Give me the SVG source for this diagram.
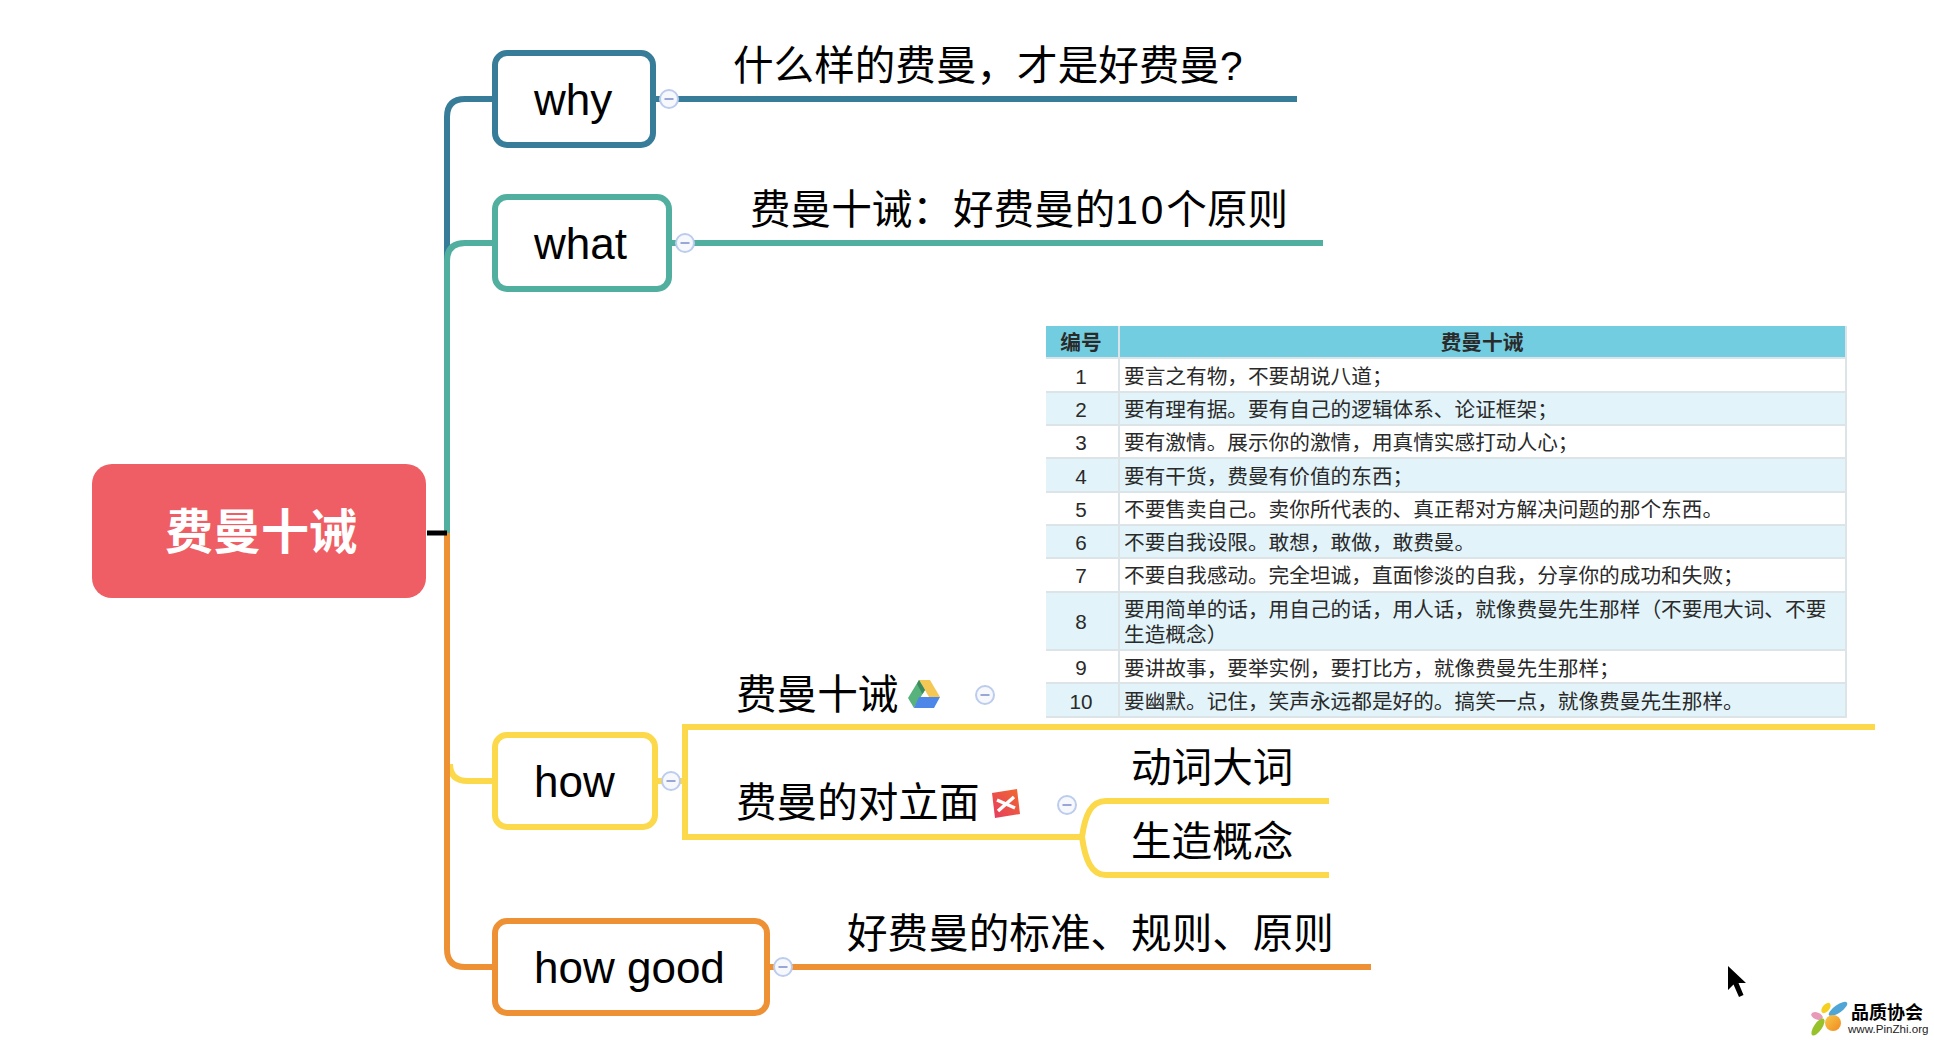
<svg xmlns="http://www.w3.org/2000/svg" width="1934" height="1040" viewBox="0 0 1934 1040">
<style>
text{font-family:"Liberation Sans","Noto Sans CJK SC",sans-serif;fill:#000}
.cjk{font-size:40.6px}
.nt{font-size:44px}
.box{fill:#fff;stroke-width:6}
.ln{fill:none;stroke-width:6}
.fold circle{fill:#F7F8FC;stroke:#BCCCEE;stroke-width:2}
.fold path{stroke:#98A6D8;stroke-width:2;fill:none}
.cell{font-size:20.67px;fill:#2a2a2a}
.num{font-size:20.67px;fill:#2a2a2a;text-anchor:middle}
.th{font-size:20.67px;font-weight:700;fill:#2a2a2a;text-anchor:middle}
.odd{fill:#fff}
.even{fill:#E2F4F9}
.rule{stroke:#DCE4E7;stroke-width:2}
</style>
<defs>
<linearGradient id="xm" x1="0" y1="1" x2="1" y2="0"><stop offset="0" stop-color="#E63B62"/><stop offset="1" stop-color="#F06A2E"/></linearGradient>
<linearGradient id="lo" x1="0" y1="0" x2="1" y2="1"><stop offset="0" stop-color="#F8C94A"/><stop offset="1" stop-color="#F08A1E"/></linearGradient>
<g id="fold" class="fold"><circle r="9"/><path d="M-4.500 0H4.500"/></g>
</defs>
<rect width="1934" height="1040" fill="#fff"/>

<g id="connectors">
<path class="ln" stroke="#FBD94A" d="M450 764Q450 781 468 781H496"/>
<path class="ln" stroke="#377C98" d="M495 99H465Q447 99 447 117V265"/>
<path class="ln" stroke="#EE9135" d="M447 533V949Q447 967 465 967H496"/>
<path class="ln" stroke="#51AFA0" d="M495 243H465Q447 243 447 261V533"/>
<path d="M427 533H447" stroke="#000" stroke-width="5" fill="none"/>
<path class="ln" stroke="#377C98" d="M653 99H1297"/>
<path class="ln" stroke="#51AFA0" d="M669 243H1323"/>
<path class="ln" stroke="#FBD94A" d="M655 781H685"/>
<path class="ln" stroke="#FBD94A" d="M1875 727H685V837H1083"/>
<path class="ln" stroke="#FBD94A" d="M1329 801H1106C1091 801 1085 815 1082 837C1085 859 1091 875 1106 875H1329"/>
<path class="ln" stroke="#EE9135" d="M767 967H1371"/>
</g>

<g id="root"><rect x="92" y="464" width="334" height="134" rx="20" fill="#EE5E64"/><text x="261" y="549" text-anchor="middle" font-size="48" font-weight="700" style="fill:#fff">费曼十诫</text></g>

<g id="why"><rect class="box" x="495" y="53" width="158" height="92" rx="12" stroke="#377C98"/><text class="nt" x="534" y="115">why</text><use href="#fold" x="669" y="99"/></g>
<g id="what"><rect class="box" x="495" y="197" width="174" height="92" rx="12" stroke="#51AFA0"/><text class="nt" x="534" y="259">what</text><use href="#fold" x="685" y="243"/></g>
<g id="how"><rect class="box" x="495" y="735" width="160" height="92" rx="12" stroke="#FBD94A"/><text class="nt" x="534" y="797">how</text><use href="#fold" x="671" y="781"/></g>
<g id="howgood"><rect class="box" x="495" y="921" width="272" height="92" rx="12" stroke="#EE9135"/><text class="nt" x="534" y="983">how good</text><use href="#fold" x="783" y="967"/></g>

<g id="why-child"><text class="cjk" x="733" y="80">什么样的费曼，才是好费曼?</text></g>
<g id="what-child"><text class="cjk" x="750" y="224">费曼十诫：好费曼的<tspan letter-spacing="3">10</tspan>个原则</text></g>
<g id="howgood-child"><text class="cjk" x="847" y="948">好费曼的标准、规则、原则</text></g>

<g id="how-child-1"><text class="cjk" x="736" y="709">费曼十诫</text>
<polygon points="919,680 930,680 940,697 929,697" fill="#F5C754"/>
<polygon points="919,680 925,690 914,708 908,698" fill="#57B27C"/>
<polygon points="919,680 925,690 922.500,694 917,684" fill="#3C8A5E"/>
<polygon points="919,697 940,697 934,708 914,708" fill="#4D87E8"/>
<use href="#fold" x="985" y="695"/></g>

<g id="how-child-2"><text class="cjk" x="736" y="817">费曼的对立面</text>
<polygon points="992,793 1017,789 1020,814 995,818" fill="url(#xm)"/>
<path d="M997 800L1015 808M1014 797L998 811" stroke="#fff" stroke-width="3.500" fill="none"/>
<use href="#fold" x="1067" y="805"/></g>

<g id="verb"><text class="cjk" x="1131" y="782">动词大词</text></g>
<g id="jargon"><text class="cjk" x="1131" y="856">生造概念</text></g>

<g id="table">
<rect x="1046" y="326" width="801" height="32" fill="#72CDE0"/>
<rect class="odd" x="1046" y="358" width="801" height="34"/>
<rect class="even" x="1046" y="392" width="801" height="33"/>
<rect class="odd" x="1046" y="425" width="801" height="33"/>
<rect class="even" x="1046" y="458" width="801" height="34"/>
<rect class="odd" x="1046" y="492" width="801" height="33"/>
<rect class="even" x="1046" y="525" width="801" height="33"/>
<rect class="odd" x="1046" y="558" width="801" height="34"/>
<rect class="even" x="1046" y="592" width="801" height="58"/>
<rect class="odd" x="1046" y="650" width="801" height="33"/>
<rect class="even" x="1046" y="683" width="801" height="34"/>
<path class="rule" d="M1046 358H1847M1046 392H1847M1046 425H1847M1046 458H1847M1046 492H1847M1046 525H1847M1046 558H1847M1046 592H1847M1046 650H1847M1046 683H1847M1046 717H1847M1119 326V717M1846 326V717"/>
<text class="th" x="1081" y="350">编号</text>
<text class="th" x="1482" y="350">费曼十诫</text>
<text class="num" x="1081" y="383.500">1</text><text class="cell" x="1124" y="383.500">要言之有物，不要胡说八道；</text>
<text class="num" x="1081" y="416.500">2</text><text class="cell" x="1124" y="416.500">要有理有据。要有自己的逻辑体系、论证框架；</text>
<text class="num" x="1081" y="449.500">3</text><text class="cell" x="1124" y="449.500">要有激情。展示你的激情，用真情实感打动人心；</text>
<text class="num" x="1081" y="483.500">4</text><text class="cell" x="1124" y="483.500">要有干货，费曼有价值的东西；</text>
<text class="num" x="1081" y="516.500">5</text><text class="cell" x="1124" y="516.500">不要售卖自己。卖你所代表的、真正帮对方解决问题的那个东西。</text>
<text class="num" x="1081" y="549.500">6</text><text class="cell" x="1124" y="549.500">不要自我设限。敢想，敢做，敢费曼。</text>
<text class="num" x="1081" y="583">7</text><text class="cell" x="1124" y="583">不要自我感动。完全坦诚，直面惨淡的自我，分享你的成功和失败；</text>
<text class="num" x="1081" y="629">8</text><text class="cell" x="1124" y="616.500">要用简单的话，用自己的话，用人话，就像费曼先生那样（不要甩大词、不要</text><text class="cell" x="1124" y="642">生造概念）</text>
<text class="num" x="1081" y="675">9</text><text class="cell" x="1124" y="675.500">要讲故事，要举实例，要打比方，就像费曼先生那样；</text>
<text class="num" x="1081" y="708.500">10</text><text class="cell" x="1124" y="708.500">要幽默。记住，笑声永远都是好的。搞笑一点，就像费曼先生那样。</text>
</g>

<g id="cursor"><path d="M1728 966V990L1733.500 984.500L1739 997L1743.500 995L1738.500 983H1746Z" fill="#000" stroke="#fff" stroke-width="2.500" stroke-linejoin="round" paint-order="stroke"/></g>

<g id="watermark">
<ellipse cx="1817" cy="1016" rx="6" ry="3.500" transform="rotate(20 1817 1016)" fill="#E89BB8"/>
<ellipse cx="1826" cy="1008" rx="6" ry="3.500" transform="rotate(-50 1826 1008)" fill="#F5D020"/>
<ellipse cx="1838" cy="1009" rx="11" ry="4" transform="rotate(-35 1838 1009)" fill="#4FA6D6"/>
<ellipse cx="1818" cy="1027" rx="10" ry="4" transform="rotate(-55 1818 1027)" fill="#97C22C"/>
<circle cx="1833" cy="1023" r="8" fill="url(#lo)"/>
<text x="1851" y="1019" font-size="18" font-weight="700">品质协会</text>
<text x="1848" y="1033" font-size="11.600" style="fill:#222">www.PinZhi.org</text>
</g>
</svg>
